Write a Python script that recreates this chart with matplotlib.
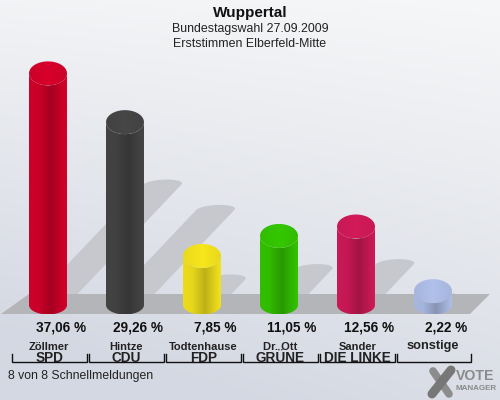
import numpy as np
import matplotlib
matplotlib.use("Agg")
import matplotlib.pyplot as plt
from matplotlib.colors import LinearSegmentedColormap, to_rgb
from matplotlib.patches import Polygon

plt.rcParams["font.family"] = ["Liberation Sans", "DejaVu Sans"]

# Chart data
candidates = ["Zöllmer", "Hintze", "Todtenhause", "Dr. Ott", "Sander", ""]
parties = ["SPD", "CDU", "FDP", "GRÜNE", "DIE LINKE", "sonstige"]
values = [37.06, 29.26, 7.85, 11.05, 12.56, 2.22]
value_labels = ["37,06 %", "29,26 %", "7,85 %", "11,05 %", "12,56 %", "2,22 %"]
bar_colors = ["#d4002a", "#454545", "#f2e21c", "#33c400", "#cf1a58", "#adbde6"]

# Layout in pixels
PX_PER_PCT = 6.25
BASE_Y = 305
HALF_W = 19
TOP_RY = 12
BOTTOM_RY = 9.5
centers = [48, 125, 202, 279, 356, 433]
bracket_edges = [(11.5, 87), (88.5, 164), (165.5, 241), (242.5, 318), (319.5, 395), (396.5, 471)]


def shade(color, factor):
    return tuple(min(1, c * factor) for c in to_rgb(color))


def ellipse_pts(cx, cy, rx, ry, start, stop, n=40):
    t = np.linspace(start, stop, n)
    return np.column_stack([cx + rx * np.cos(t), cy + ry * np.sin(t)])


fig = plt.figure(figsize=(5, 4), dpi=100)
ax = fig.add_axes([0, 0, 1, 1])
ax.set_axis_off()

# Background gradient
yy, xx = np.mgrid[0:1:200j, 0:1:250j]
mix = np.clip(0.8 * yy + 0.25 * (1 - xx) * yy + 0.12 * (1 - xx), 0, 1)[..., None]
bg = (1 - mix) * np.array(to_rgb("#f6f7f8")) + mix * np.array(to_rgb("#d4d8e2"))
ax.imshow(bg, extent=(0, 500, 400, 0), aspect="auto", zorder=0)

# Shadows lean to the right behind the cylinders
for cx, val in zip(centers, values):
    height = val * PX_PER_PCT
    dy = height * 0.52
    dx = dy * 0.95
    tip_x = cx + dx
    tip_y = BASE_Y - dy
    tip = ellipse_pts(tip_x, tip_y, HALF_W, 5, 0, -np.pi)
    # shear the rounded end so that it follows the band
    tip[:, 0] += (tip_y - tip[:, 1]) * 0.95
    pts = np.vstack([[(cx + HALF_W, BASE_Y)], tip, [(cx - HALF_W, BASE_Y)]])
    ax.add_patch(Polygon(pts, closed=True, color="#c6c8cd", lw=0, zorder=1))

# Floor band
ax.add_patch(Polygon([(1, 314), (29, 294), (490, 294), (470, 314)], closed=True,
                     color="#b4b5b9", lw=0, zorder=2))

# Cylinders
for cx, val, color in zip(centers, values, bar_colors):
    top_y = BASE_Y - val * PX_PER_PCT
    body = np.vstack([
        ellipse_pts(cx, top_y, HALF_W, TOP_RY, np.pi, 0),
        ellipse_pts(cx, BASE_Y, HALF_W, BOTTOM_RY, 0, np.pi),
    ])
    body_patch = Polygon(body, closed=True, lw=0, fc="none", zorder=3)
    ax.add_patch(body_patch)
    cmap = LinearSegmentedColormap.from_list("body", [
        (0.0, shade(color, 0.97)), (0.25, shade(color, 0.95)),
        (0.58, shade(color, 0.78)), (0.85, shade(color, 0.93)), (1.0, shade(color, 1.0)),
    ])
    im = ax.imshow(np.linspace(0, 1, 64)[None, :], cmap=cmap, aspect="auto", zorder=3,
                   extent=(cx - HALF_W, cx + HALF_W, BASE_Y + BOTTOM_RY, top_y))
    im.set_clip_path(body_patch)

    # top face
    lid = Polygon(ellipse_pts(cx, top_y, HALF_W, TOP_RY, 0, 2 * np.pi), closed=True,
                  lw=0, fc="none", zorder=4)
    ax.add_patch(lid)
    lid_cmap = LinearSegmentedColormap.from_list("lid", [
        (0.0, shade(color, 0.96)), (0.5, shade(color, 1.02)), (1.0, shade(color, 0.96)),
    ])
    im2 = ax.imshow(np.linspace(0, 1, 64)[None, :], cmap=lid_cmap, aspect="auto", zorder=4,
                    extent=(cx - HALF_W, cx + HALF_W, top_y + TOP_RY, top_y - TOP_RY))
    im2.set_clip_path(lid)

ax.set_xlim(0, 500)
ax.set_ylim(400, 0)

# Titles
ax.text(250, 13, "Wuppertal", ha="center", va="center", fontsize=11, fontweight="bold", color="#111111")
ax.text(250, 29, "Bundestagswahl 27.09.2009", ha="center", va="center", fontsize=8.9, color="#222222")
ax.text(250, 44, "Erststimmen Elberfeld-Mitte", ha="center", va="center", fontsize=8.9, color="#222222")

# Labels under each bar
for i, cx in enumerate(centers):
    ax.text(cx + 13, 328, value_labels[i], ha="center", va="center", fontsize=9.8,
            fontweight="bold", color="#111111")
    left, right = bracket_edges[i]
    mid = (left + right) / 2
    if candidates[i]:
        ax.text(mid, 346.5, candidates[i], ha="center", va="center", fontsize=8,
                fontweight="bold", color="#222222")
        ax.text(mid, 358, parties[i], ha="center", va="center", fontsize=9.8,
                fontweight="bold", color="#222222")
    else:
        ax.text(mid - 1, 345.5, parties[i], ha="center", va="center", fontsize=9.2,
                fontweight="bold", color="#222222")
    ax.plot([left, left, right, right], [354, 362, 362, 354], color="#111111", lw=1,
            solid_joinstyle="miter", zorder=5)

ax.text(8, 375.5, "8 von 8 Schnellmeldungen", ha="left", va="center", fontsize=8.8, color="#222222")

# Vote Manager logo
ax.plot([433, 449], [371, 394], color="#8c8c8c", lw=5.5, solid_capstyle="round", zorder=2)
ax.plot([432, 451], [394, 370], color="#777777", lw=6.5, solid_capstyle="round", zorder=2)
ax.text(456, 376.5, "VOTE", ha="left", va="center", fontsize=10.2, fontweight="bold", color="#8a8a8a")
ax.text(455, 388, "MANAGER", ha="left", va="center", fontsize=5.8, fontweight="bold", color="#8a8a8a")

fig.savefig("out.png", dpi=100)
